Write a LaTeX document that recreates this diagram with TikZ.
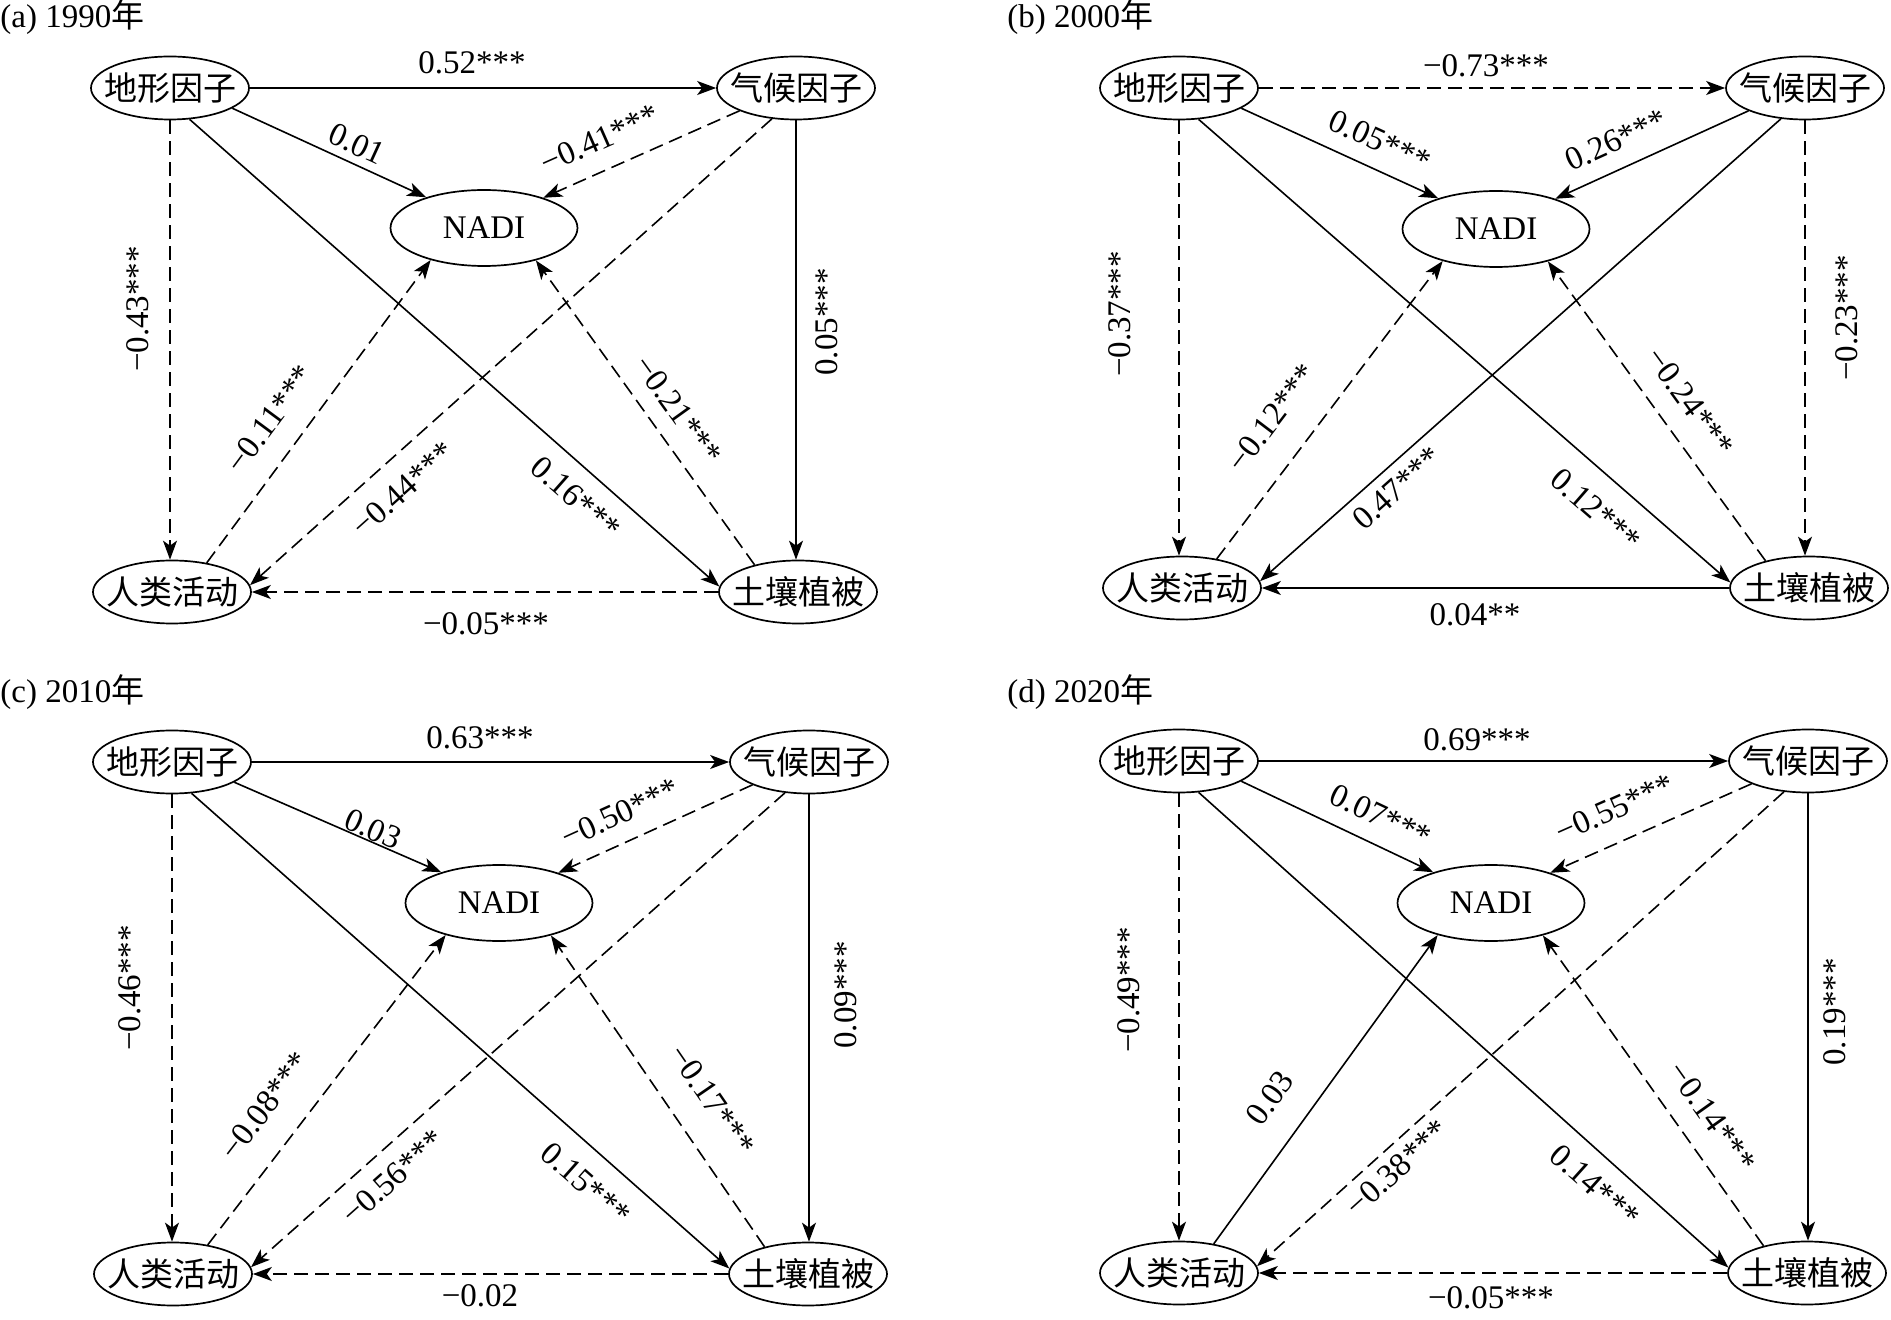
\documentclass[tikz,border=0pt]{standalone}
\usepackage{fontspec}
\setmainfont{Liberation Serif}
\newfontfamily\cjk{Noto Sans CJK SC}
\usetikzlibrary{shapes.geometric,arrows.meta,calc}
\newcommand\fsz{\fontsize{16.5pt}{18pt}\selectfont}
\tikzset{
  ell/.style={ellipse, draw, line width=0.85pt, inner xsep=-6pt, inner ysep=0pt,
              minimum width=79pt, minimum height=31.5pt, font=\cjk\fsz},
  ndi/.style={ellipse, draw, line width=0.85pt, inner sep=0pt,
              minimum width=93.5pt, minimum height=38pt, font=\fsz},
  lbl/.style={inner sep=0pt, font=\fsz},
  ttl/.style={inner sep=0pt, anchor=base west, font=\fsz},
  conn/.style={line width=0.8pt, -{Stealth[length=9.5pt,width=7pt,inset=2.5pt]}},
  sol/.style={conn},
  dsh/.style={conn, dash pattern=on 7pt off 3.5pt},
}
% label placed at an absolute point, turned along the connector from #1 to #2
\newcommand\elab[5]{\path let \p1=($(#2)-(#1)$), \n1={atan2(\y1,\x1)},
  \n2={\n1>90 ? \n1-180 : (\n1<-90 ? \n1+180 : \n1)} in
  node[lbl, rotate=\n2] (#5) at (#3) {#4};}
\begin{document}
\begin{tikzpicture}[x=0.5pt,y=-0.5pt]
\useasboundingbox (0,0) rectangle (1891,1320);
\fill[white] (0,0) rectangle (1891,1320);

% ---------------- (a) 1990
\node[ttl] (a-t) at (0,28) {(a) 1990{\cjk 年}};
\node[ell] (a-dx) at (170,88) {地形因子};
\node[ell] (a-qh) at (796,88) {气候因子};
\node[ndi] (a-nd) at (484,228) {NADI};
\node[ell] (a-rl) at (172,592) {人类活动};
\node[ell] (a-tr) at (798,592) {土壤植被};
\draw[sol] (a-dx.east) -- (a-qh.west);
\draw[sol] (a-dx.-18) -- (a-nd.152);
\draw[dsh] (a-qh.202) -- (a-nd.27);
\draw[dsh] (a-dx.south) -- (a-dx.south |- a-rl.north);
\draw[sol] (a-dx.-58) -- (a-tr.176);
\draw[sol] (a-qh.south) -- (a-qh.south |- a-tr.north);
\draw[dsh] (a-qh.-128) -- (a-rl.5);
\draw[dsh] (a-rl.40) -- (a-nd.-149);
\draw[dsh] (a-tr.148) -- (a-nd.-32);
\draw[dsh] (a-tr.west) -- (a-rl.east);
\node[lbl] (a-lA) at (472,63) {0.52***};
\elab{a-dx.-18}{a-nd.152}{357,144}{0.01}{a-lB}
\elab{a-qh.202}{a-nd.27}{600,139}{−0.41***}{a-lC}
\node[lbl, rotate=90] (a-lD) at (138,309) {−0.43***};
\elab{a-dx.-58}{a-tr.176}{576,498}{0.16***}{a-lE}
\node[lbl, rotate=90] (a-lF) at (827,322) {0.05***};
\elab{a-qh.-128}{a-rl.5}{403,489}{−0.44***}{a-lG}
\elab{a-rl.40}{a-nd.-149}{270,419}{−0.11***}{a-lH}
\elab{a-tr.148}{a-nd.-32}{678,410}{−0.21***}{a-lI}
\node[lbl] (a-lJ) at (486,624) {−0.05***};

% ---------------- (b) 2000
\node[ttl] (b-t) at (1007,28) {(b) 2000{\cjk 年}};
\node[ell] (b-dx) at (1179,88) {地形因子};
\node[ell] (b-qh) at (1805,88) {气候因子};
\node[ndi] (b-nd) at (1496,229) {NADI};
\node[ell] (b-rl) at (1182,588) {人类活动};
\node[ell] (b-tr) at (1809,588) {土壤植被};
\draw[dsh] (b-dx.east) -- (b-qh.west);
\draw[sol] (b-dx.-18) -- (b-nd.152);
\draw[sol] (b-qh.202) -- (b-nd.27);
\draw[dsh] (b-dx.south) -- (b-dx.south |- b-rl.north);
\draw[sol] (b-dx.-58) -- (b-tr.176);
\draw[dsh] (b-qh.south) -- (b-qh.south |- b-tr.north);
\draw[sol] (b-qh.-128) -- (b-rl.5);
\draw[dsh] (b-rl.40) -- (b-nd.-149);
\draw[dsh] (b-tr.148) -- (b-nd.-32);
\draw[sol] (b-tr.west) -- (b-rl.east);
\node[lbl] (b-lA) at (1486,66) {−0.73***};
\elab{b-dx.-18}{b-nd.152}{1380,141}{0.05***}{b-lB}
\elab{b-qh.202}{b-nd.27}{1616,140}{0.26***}{b-lC}
\node[lbl, rotate=90] (b-lD) at (1120,314) {−0.37***};
\elab{b-dx.-58}{b-tr.176}{1596,510}{0.12***}{b-lE}
\node[lbl, rotate=90] (b-lF) at (1847,318) {−0.23***};
\elab{b-qh.-128}{b-rl.5}{1397,488}{0.47***}{b-lG}
\elab{b-rl.40}{b-nd.-149}{1272,418}{−0.12***}{b-lH}
\elab{b-tr.148}{b-nd.-32}{1690,402}{−0.24***}{b-lI}
\node[lbl] (b-lJ) at (1475,615) {0.04**};

% ---------------- (c) 2010
\node[ttl] (c-t) at (0,703) {(c) 2010{\cjk 年}};
\node[ell] (c-dx) at (172,762) {地形因子};
\node[ell] (c-qh) at (809,762) {气候因子};
\node[ndi] (c-nd) at (499,903) {NADI};
\node[ell] (c-rl) at (173,1274) {人类活动};
\node[ell] (c-tr) at (808,1274) {土壤植被};
\draw[sol] (c-dx.east) -- (c-qh.west);
\draw[sol] (c-dx.-18) -- (c-nd.152);
\draw[dsh] (c-qh.202) -- (c-nd.27);
\draw[dsh] (c-dx.south) -- (c-dx.south |- c-rl.north);
\draw[sol] (c-dx.-58) -- (c-tr.176);
\draw[sol] (c-qh.south) -- (c-qh.south |- c-tr.north);
\draw[dsh] (c-qh.-128) -- (c-rl.5);
\draw[dsh] (c-rl.40) -- (c-nd.-149);
\draw[dsh] (c-tr.148) -- (c-nd.-32);
\draw[dsh] (c-tr.west) -- (c-rl.east);
\node[lbl] (c-lA) at (480,738) {0.63***};
\elab{c-dx.-18}{c-nd.152}{373,829}{0.03}{c-lB}
\elab{c-qh.202}{c-nd.27}{620,813}{−0.50***}{c-lC}
\node[lbl, rotate=90] (c-lD) at (130,988) {−0.46***};
\elab{c-dx.-58}{c-tr.176}{586,1184}{0.15***}{c-lE}
\node[lbl, rotate=90] (c-lF) at (846,995) {0.09***};
\elab{c-qh.-128}{c-rl.5}{393,1177}{−0.56***}{c-lG}
\elab{c-rl.40}{c-nd.-149}{265,1106}{−0.08***}{c-lH}
\elab{c-tr.148}{c-nd.-32}{712,1100}{−0.17***}{c-lI}
\node[lbl] (c-lJ) at (480,1296) {−0.02};

% ---------------- (d) 2020
\node[ttl] (d-t) at (1007,703) {(d) 2020{\cjk 年}};
\node[ell] (d-dx) at (1179,761) {地形因子};
\node[ell] (d-qh) at (1808,761) {气候因子};
\node[ndi] (d-nd) at (1491,903) {NADI};
\node[ell] (d-rl) at (1179,1273) {人类活动};
\node[ell] (d-tr) at (1807,1273) {土壤植被};
\draw[sol] (d-dx.east) -- (d-qh.west);
\draw[sol] (d-dx.-18) -- (d-nd.152);
\draw[dsh] (d-qh.202) -- (d-nd.27);
\draw[dsh] (d-dx.south) -- (d-dx.south |- d-rl.north);
\draw[sol] (d-dx.-58) -- (d-tr.176);
\draw[sol] (d-qh.south) -- (d-qh.south |- d-tr.north);
\draw[dsh] (d-qh.-128) -- (d-rl.5);
\draw[sol] (d-rl.40) -- (d-nd.-149);
\draw[dsh] (d-tr.148) -- (d-nd.-32);
\draw[dsh] (d-tr.west) -- (d-rl.east);
\node[lbl] (d-lA) at (1477,740) {0.69***};
\elab{d-dx.-18}{d-nd.152}{1381,816}{0.07***}{d-lB}
\elab{d-qh.202}{d-nd.27}{1615,808}{−0.55***}{d-lC}
\node[lbl, rotate=90] (d-lD) at (1129,990) {−0.49***};
\elab{d-dx.-58}{d-tr.176}{1595,1186}{0.14***}{d-lE}
\node[lbl, rotate=90] (d-lF) at (1835,1012) {0.19***};
\elab{d-qh.-128}{d-rl.5}{1397,1168}{−0.38***}{d-lG}
\elab{d-rl.40}{d-nd.-149}{1270,1098}{0.03}{d-lH}
\elab{d-tr.148}{d-nd.-32}{1712,1117}{−0.14***}{d-lI}
\node[lbl] (d-lJ) at (1491,1298) {−0.05***};
\end{tikzpicture}
\end{document}
